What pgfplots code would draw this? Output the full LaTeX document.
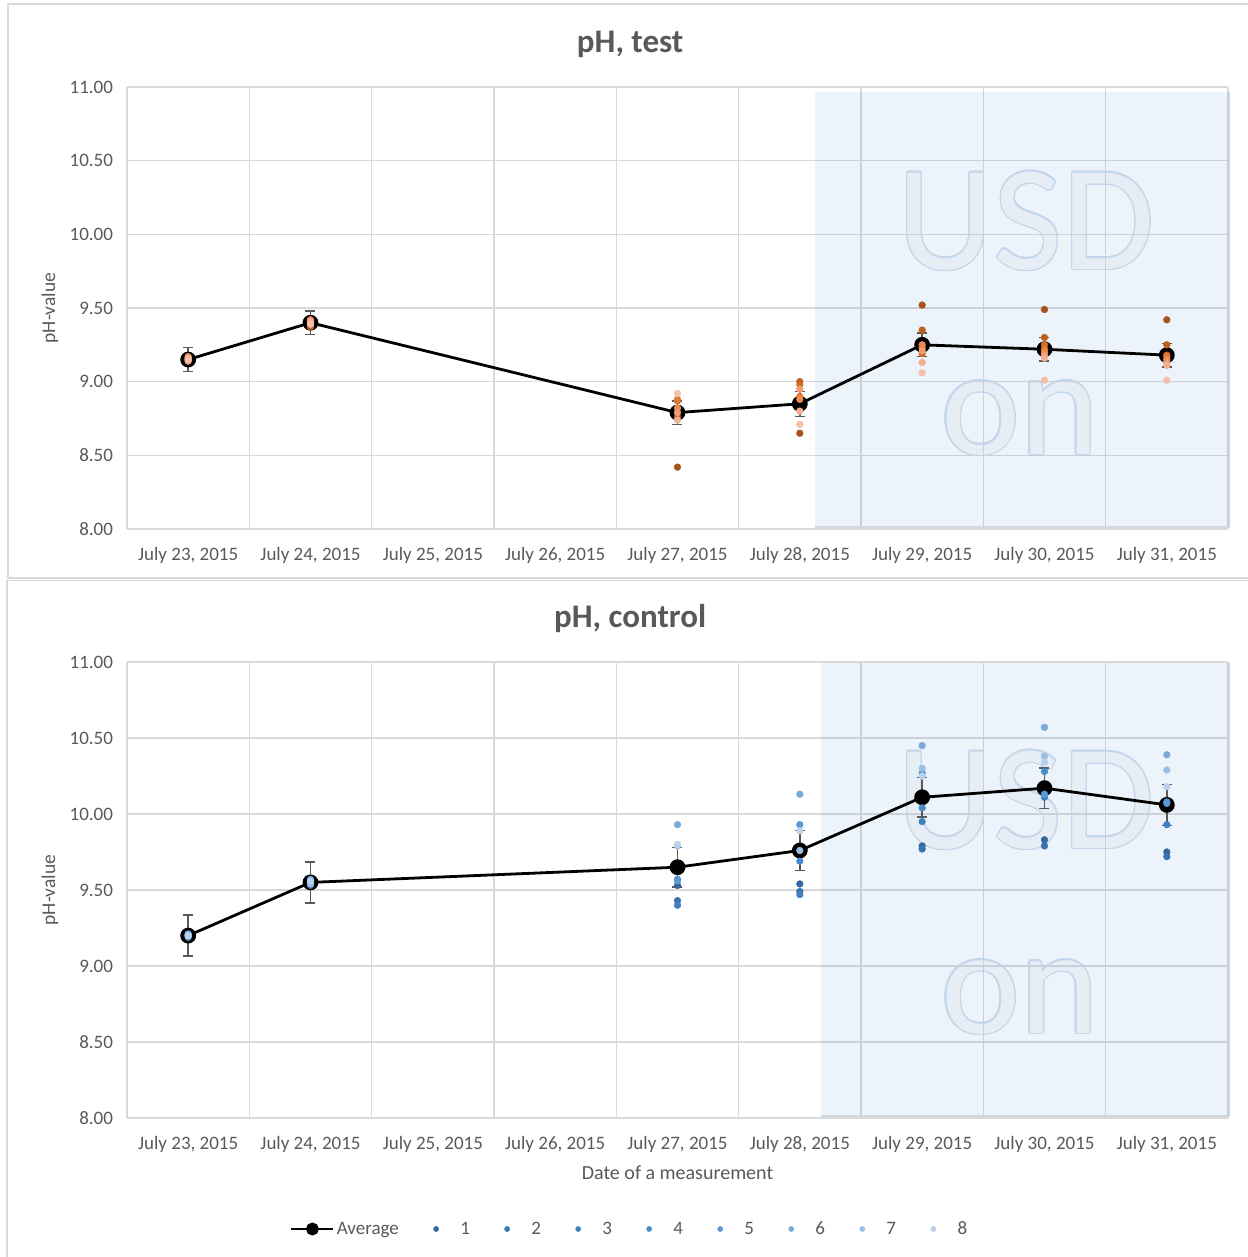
\documentclass[border=0pt]{standalone}
\usepackage{pgfplots}
\pgfplotsset{compat=1.18}
\usepackage{pgfplotstable}
\usepackage{fontspec}
\usepackage[copies]{contour}
\setmainfont{Carlito}
\contourlength{1.2pt}
\contournumber{24}

\definecolor{txt}{HTML}{595959}
\definecolor{grd}{HTML}{D9D9D9}
\definecolor{grdd}{RGB}{200,208,216}
\definecolor{onbg}{RGB}{236,243,250}
\definecolor{onedge}{RGB}{212,217,223}
\definecolor{wmfill}{RGB}{231,237,244}
\definecolor{wmline}{RGB}{194,215,237}
\definecolor{errc}{HTML}{595959}
% orange shades, dark -> light
\definecolor{o1}{HTML}{A9531B}
\definecolor{o2}{HTML}{C05E1E}
\definecolor{o3}{HTML}{D26A26}
\definecolor{o4}{HTML}{E27A34}
\definecolor{o5}{HTML}{EC8B4F}
\definecolor{o6}{HTML}{F09C70}
\definecolor{o7}{HTML}{F2AE91}
\definecolor{o8}{HTML}{F4C0AA}
% blue shades, dark -> light
\definecolor{b1}{HTML}{34679B}
\definecolor{b2}{HTML}{3A74AE}
\definecolor{b3}{HTML}{4181BF}
\definecolor{b4}{HTML}{4A8CCB}
\definecolor{b5}{HTML}{5A99D3}
\definecolor{b6}{HTML}{78ABDB}
\definecolor{b7}{HTML}{99C0E4}
\definecolor{b8}{HTML}{B7D2EC}

% x: 0 = July 23, ... 8 = July 31
\pgfplotstableread{
x avg err s1 s2 s3 s4 s5 s6 s7 s8
0 9.15 0.08  9.14 9.15 9.16 9.15 9.17 9.14 9.16 9.15
1 9.40 0.08  9.37 9.38 9.40 9.41 9.42 9.40 9.41 9.39
4 8.79 0.08  8.42 8.76 8.87 8.88 8.82 8.79 8.74 8.92
5 8.85 0.085 8.65 9.00 8.98 8.90 8.88 8.95 8.80 8.71
6 9.25 0.08  9.52 9.35 9.19 9.23 9.25 9.21 9.13 9.06
7 9.22 0.08  9.49 9.30 9.25 9.22 9.20 9.18 9.16 9.01
8 9.18 0.08  9.42 9.25 9.18 9.17 9.15 9.13 9.11 9.01
}\testtab

\pgfplotstableread{
x avg err s1 s2 s3 s4 s5 s6 s7 s8
0 9.20  0.135 9.19 9.20 9.21 9.20 9.19 9.21 9.20 9.20
1 9.55  0.135 9.53 9.54 9.55 9.56 9.57 9.55 9.54 9.56
4 9.65  0.13  9.53 9.43 9.40 9.57 9.56 9.93 9.79 9.80
5 9.76  0.13  9.54 9.49 9.47 9.69 9.93 10.13 9.76 9.89
6 10.11 0.13  9.79 9.77 9.95 10.04 10.27 10.45 10.30 10.25
7 10.17 0.133 9.83 9.79 10.11 10.28 10.13 10.57 10.38 10.34
8 10.06 0.135 9.75 9.72 9.93 10.08 10.07 10.39 10.29 10.18
}\ctrltab

\pgfplotsset{
  phbase/.style={
    scale only axis, width=1101pt,
    xmin=-0.5, xmax=8.5, ymin=8, ymax=11,
    xtick={0,...,8},
    xticklabels={{July 23, 2015},{July 24, 2015},{July 25, 2015},{July 26, 2015},{July 27, 2015},{July 28, 2015},{July 29, 2015},{July 30, 2015},{July 31, 2015}},
    minor xtick={-0.5,0.5,...,8.5},
    ytick={8,8.5,...,11},
    yticklabel style={xshift=-10.5pt, /pgf/number format/fixed, /pgf/number format/fixed zerofill,
      /pgf/number format/precision=2, /pgf/number format/assume math mode=true},
    xminorgrids, ymajorgrids,
    grid style={grd, line width=1.6pt},
    minor grid style={grd, line width=1.6pt},
    axis line style={draw=none},
    tick style={draw=none},
    tick label style={font=\fontsize{19}{22}\selectfont, text=txt},
    xticklabel style={yshift=-15pt},
    title style={at={(axis description cs:0.457,1)}, anchor=center, yshift=37pt,
      font=\bfseries\fontsize{33}{36}\selectfont, text=txt},
    every axis y label/.style={at={(axis description cs:-0.07,0.5)}, rotate=90, anchor=center,
      font=\fontsize{19.5}{22}\selectfont, text=txt},
    clip=false,
  },
  avgstyle/.style={black, line width=2.8pt, mark=*, mark size=6.5pt,
    /pgfplots/error bars/y dir=both, /pgfplots/error bars/y explicit,
    /pgfplots/error bars/error bar style={errc, line width=1.4pt},
    /pgfplots/error bars/error mark options={errc, rotate=90, mark size=5pt, line width=1.4pt}},
  dotstyle/.style={only marks, mark=*, mark size=3.4pt, color=#1},
}

% shaded "on" region with watermark and darker grid lines over it
\newcommand{\onregion}[5]{% #1 left x, #2 top y, #3 bottom y, #4 USD baseline, #5 on baseline
  \fill[onbg] (axis cs:#1,#2) rectangle (axis cs:8.515,#3);
  \draw[onedge, line width=1.2pt] (axis cs:#1,#3) -- (axis cs:8.515,#3) -- (axis cs:8.515,#2);
  \node[font=\fontsize{150}{150}\selectfont, anchor=base, inner sep=0pt] at (axis cs:6.85,#4) {\contour{wmline}{\color{wmfill}USD}};
  \node[font=\fontsize{150}{150}\selectfont, anchor=base, inner sep=0pt] at (axis cs:6.80,#5) {\contour{wmline}{\color{wmfill}on}};
  \pgfplotsinvokeforeach{5.5,6.5,7.5,8.5}{\draw[grdd, line width=1.6pt] (axis cs:##1,#3) -- (axis cs:##1,#2);}
  \pgfplotsinvokeforeach{8.5,9,9.5,10,10.5}{\draw[grdd, line width=1.6pt] (axis cs:#1,##1) -- (axis cs:8.5,##1);}
}

\begin{document}
\begin{tikzpicture}
\useasboundingbox (0pt,0pt) rectangle (1247pt,-1257pt);
\draw[grd, line width=1.5pt] (8pt,-4pt) rectangle (1262pt,-578pt);
\draw[grd, line width=1.5pt] (7pt,-580.5pt) rectangle (1262pt,-1275pt);

\begin{axis}[phbase, at={(127pt,-87pt)}, anchor=north west, height=442pt,
  title={pH, test}, ylabel={pH-value}]
\onregion{5.125}{10.966}{8.013}{9.764}{8.509}
\addplot[avgstyle] table[x=x, y=avg, y error=err] {\testtab};
\pgfplotsinvokeforeach{1,...,8}{
  \addplot[dotstyle=o#1] table[x=x, y=s#1] {\testtab};
}
\end{axis}

\begin{axis}[phbase, at={(127pt,-662pt)}, anchor=north west, height=456pt,
  title={pH, control}, ylabel={pH-value},
  xlabel={Date of a measurement},
  xlabel style={at={(axis description cs:0.5,0)}, anchor=center, yshift=-55pt,
    font=\fontsize{20}{22}\selectfont, text=txt},
  legend columns=9,
  legend style={draw=none, fill=none, at={(axis description cs:0.4565,-0.2434)}, anchor=center,
    font=\fontsize{19}{22}\selectfont, text=txt,
    nodes={inner xsep=2pt},
    /tikz/every odd column/.append style={column sep=0pt},
    /tikz/every even column/.append style={column sep=31pt}},
]
\onregion{5.173}{10.995}{8.013}{9.776}{8.559}
\addplot[avgstyle,
  legend image code/.code={\draw[mark repeat=2, mark phase=2, mark size=5pt] plot coordinates {(0pt,0pt) (21pt,0pt) (42pt,0pt)};}]
  table[x=x, y=avg, y error=err] {\ctrltab};
\addlegendentry{Average}
\pgfplotsinvokeforeach{1,...,8}{
  \addplot[dotstyle=b#1,
    legend image code/.code={\path (-4pt,0pt) (22pt,0pt); \draw[mark size=2.6pt] plot coordinates {(0pt,0pt)};}]
    table[x=x, y=s#1] {\ctrltab};
  \addlegendentry{#1}
}
\end{axis}
\end{tikzpicture}
\end{document}
